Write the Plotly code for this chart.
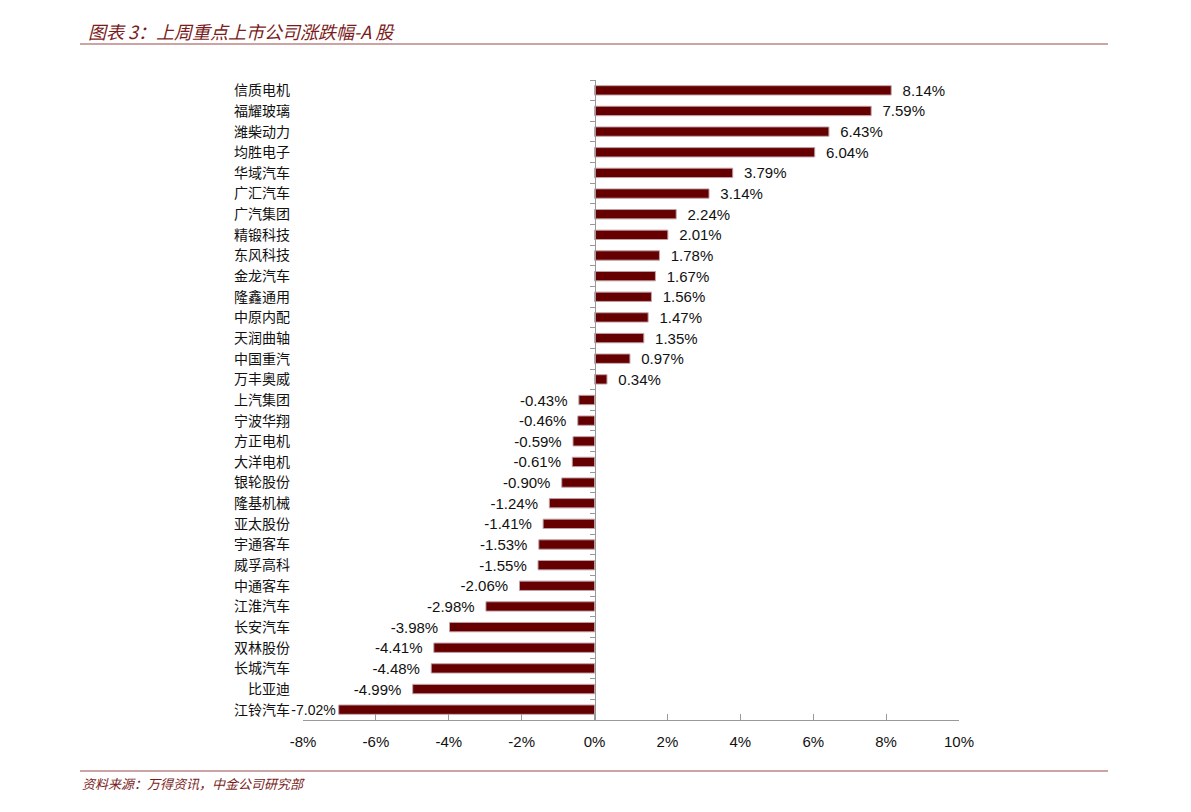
import plotly.graph_objects as go

companies = ["信质电机", "福耀玻璃", "潍柴动力", "均胜电子", "华域汽车", "广汇汽车", "广汽集团", "精锻科技",
             "东风科技", "金龙汽车", "隆鑫通用", "中原内配", "天润曲轴", "中国重汽", "万丰奥威", "上汽集团",
             "宁波华翔", "方正电机", "大洋电机", "银轮股份", "隆基机械", "亚太股份", "宇通客车", "威孚高科",
             "中通客车", "江淮汽车", "长安汽车", "双林股份", "长城汽车", "比亚迪", "江铃汽车"]
changes = [8.14, 7.59, 6.43, 6.04, 3.79, 3.14, 2.24, 2.01, 1.78, 1.67, 1.56, 1.47, 1.35, 0.97, 0.34,
           -0.43, -0.46, -0.59, -0.61, -0.90, -1.24, -1.41, -1.53, -1.55, -2.06, -2.98, -3.98, -4.41,
           -4.48, -4.99, -7.02]
x_ticks = [-8, -6, -4, -2, 0, 2, 4, 6, 8, 10]
x_tick_labels = [f"{t}%" for t in x_ticks]

title_text = "图表 3：上周重点上市公司涨跌幅-A 股"
source_text = "资料来源：万得资讯，中金公司研究部"

W, H = 1191, 812
ml, mr, mt, mb = 303, 232, 80, 92
xmin, xmax = -8, 10
PW, PH = W - ml - mr, H - mt - mb
zero_pos = (0 - xmin) / (xmax - xmin)

pad = "\u00a0\u00a0"
labels = []
sizes = []
for v in changes:
    if v >= 0:
        labels.append(pad + f"{v:.2f}%")
        sizes.append(15)
    elif v < -6.5:
        # little room next to the category label: no extra padding, slightly smaller
        labels.append(f"{v:.2f}%")
        sizes.append(14)
    else:
        labels.append(f"{v:.2f}%" + pad)
        sizes.append(15)

bar_color = "#660000"
fig = go.Figure()
fig.add_trace(go.Bar(
    x=changes, y=companies, orientation="h",
    marker=dict(color=bar_color, line=dict(color="#8a3a3a", width=0.6)),
    text=labels, textposition="outside", cliponaxis=False, constraintext="none",
    textfont=dict(family="Liberation Sans, Arial", size=sizes, color="#111111"),
    hoverinfo="skip",
))
fig.add_trace(go.Bar(
    x=changes, y=companies, orientation="h", yaxis="y2",
    marker=dict(color="rgba(0,0,0,0)"), hoverinfo="skip", showlegend=False,
))

fig.update_layout(
    width=W, height=H,
    margin=dict(l=ml, r=mr, t=mt, b=mb, pad=0),
    paper_bgcolor="white", plot_bgcolor="white",
    showlegend=False, bargap=0.55,
    xaxis=dict(range=[xmin, xmax], tickvals=x_ticks, ticktext=x_tick_labels,
               showgrid=False, zeroline=False, showline=True, linecolor="#999999", linewidth=1,
               ticks="inside", ticklen=6, tickcolor="#999999",
               tickfont=dict(family="Liberation Sans, Arial", size=15, color="#111111"),
               ticklabelstandoff=8, fixedrange=True),
    yaxis=dict(categoryorder="array", categoryarray=companies, autorange="reversed",
               showgrid=False, zeroline=False, showline=False, ticks="",
               tickfont=dict(family="Noto Sans CJK SC", size=14, color="#111111"),
               ticklabelstandoff=12),
    yaxis2=dict(overlaying="y", anchor="free", position=zero_pos, side="left",
                categoryorder="array", categoryarray=companies, autorange="reversed",
                showgrid=False, zeroline=False, showline=True, linecolor="#999999", linewidth=1,
                ticks="outside", ticklen=5, tickcolor="#999999", tickson="boundaries",
                showticklabels=False),
    annotations=[
        dict(text=title_text, xref="paper", yref="paper", x=(86 - ml) / PW,
             y=1 + (80 - 31) / PH, xanchor="left", yanchor="middle", showarrow=False,
             font=dict(family="Noto Sans CJK SC", size=18, color="#7a1c1c", style="italic")),
        dict(text=source_text, xref="paper", yref="paper", x=(80 - ml) / PW,
             y=-(783 - 720) / PH, xanchor="left", yanchor="middle", showarrow=False,
             font=dict(family="Noto Sans CJK SC", size=13, color="#7a1c1c", style="italic")),
    ],
    shapes=[
        dict(type="line", xref="paper", yref="paper",
             x0=(80 - ml) / PW, x1=(1108 - ml) / PW,
             y0=1 + (80 - 44) / PH, y1=1 + (80 - 44) / PH,
             line=dict(color="#9a4a4a", width=1.2)),
        dict(type="line", xref="paper", yref="paper",
             x0=(80 - ml) / PW, x1=(1108 - ml) / PW,
             y0=-(771 - 720) / PH, y1=-(771 - 720) / PH,
             line=dict(color="#9a4a4a", width=1.2)),
    ],
)

fig.write_html("out.html")
